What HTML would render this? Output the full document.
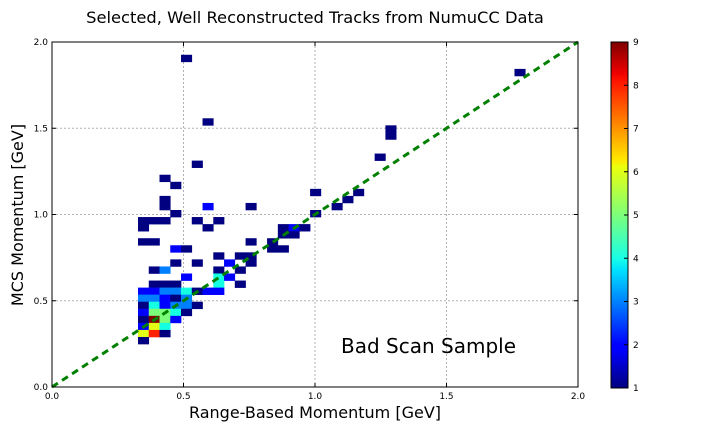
<!DOCTYPE html>
<html><head><meta charset="utf-8"><style>
html,body{margin:0;padding:0;background:#fff;width:720px;height:432px;overflow:hidden}
svg text{font-family:"DejaVu Sans","Liberation Sans",sans-serif}
</style></head><body>
<svg id="chart" width="720" height="432" viewBox="0 0 720 432" xmlns="http://www.w3.org/2000/svg">
<defs>
<linearGradient id="jet" x1="0" y1="1" x2="0" y2="0">
<stop offset="0" stop-color="#00007f"/><stop offset="0.11" stop-color="#0000ff"/><stop offset="0.125" stop-color="#0000ff"/>
<stop offset="0.34" stop-color="#00e0ff"/><stop offset="0.375" stop-color="#19ffe6"/><stop offset="0.5" stop-color="#7dff7a"/>
<stop offset="0.64" stop-color="#ebff0c"/><stop offset="0.66" stop-color="#ffe600"/><stop offset="0.89" stop-color="#ff1200"/>
<stop offset="0.91" stop-color="#ee0000"/><stop offset="1" stop-color="#7f0000"/>
</linearGradient>
</defs>
<text x="315" y="23" font-size="16.3" text-anchor="middle">Selected, Well Reconstructed Tracks from NumuCC Data</text>
<g id="grid"></g>
<g id="cells"></g>
<line x1="52" y1="387" x2="578" y2="42" stroke="#008000" stroke-width="3" stroke-dasharray="7,5"/>
<rect x="52" y="42" width="526" height="345" fill="none" stroke="#000" stroke-width="1"/>
<g id="ticks"></g>
<text x="341" y="353" font-size="20">Bad Scan Sample</text>
<text x="315" y="418" font-size="16" text-anchor="middle">Range-Based Momentum [GeV]</text>
<text x="23" y="215" font-size="16" text-anchor="middle" transform="rotate(-90 23 215)">MCS Momentum [GeV]</text>
<rect x="611" y="42" width="17" height="346" fill="url(#jet)" stroke="#000" stroke-width="1"/>
<g id="cbticks"></g>
</svg>
<script>
// histogram binning (GeV)
const binX0 = 0.327, binY0 = 0.249, binW = 0.0409;
// x bin index, y bin index, counts per cell
const xBin = [4,6,5,2,3,35,23,23,22,16,20,19,18,16,2,2,6,10,3,0,1,2,5,7,0,6,13,14,15,13,14,0,1,10,12,3,4,12,13,7,9,10,3,5,8,10,1,2,7,9,4,7,8,1,2,3,7,9,0,1,2,3,4,5,6,7,0,1,2,3,4,0,1,2,3,4,5,0,1,2,3,4,0,1,2,3,0,1,2,0,1,2,0];
const yBin = [40,31,25,23,22,38,30,29,26,21,21,20,19,18,20,19,19,19,18,17,17,17,17,17,16,16,16,16,16,15,15,14,14,14,14,13,13,13,13,12,12,12,11,11,11,11,10,10,10,10,9,9,9,8,8,8,8,8,7,7,7,7,7,7,7,7,6,6,6,6,6,5,5,5,5,5,5,4,4,4,4,4,3,3,3,3,2,2,2,1,1,1,0];
const counts = [1,1,1,1,1,1,1,1,1,1,1,1,1,1,1,1,2,1,1,1,1,1,1,1,1,1,1,2,1,1,1,1,1,1,1,2,1,1,1,1,1,1,1,1,2,1,1,3,1,1,2,4,2,1,1,1,4,1,2,2,3,3,4,1,2,2,3,3,2,1,3,1,4,2,3,3,1,2,5,5,4,1,1,9,5,2,2,6,4,6,8,1,1];
const axisTicks = [0.0,0.5,1.0,1.5,2.0];
const axisTickLabels = ["0.0","0.5","1.0","1.5","2.0"];
const cbTicks = [1,2,3,4,5,6,7,8,9];
const cMin = 1, cMax = 9;

const NS = "http://www.w3.org/2000/svg";
const L = 52, R = 578, T = 42, B = 387;
const xs = v => L + (v / 2) * (R - L);
const ys = v => B - (v / 2) * (B - T);
function interp(pts, t){for(let k=1;k<pts.length;k++){if(t<=pts[k][0]){const a=pts[k-1],b=pts[k];return a[1]+(b[1]-a[1])*(t-a[0])/(b[0]-a[0]);}}return pts[pts.length-1][1];}
function jet(t){
  const r=interp([[0,0],[0.35,0],[0.66,1],[0.89,1],[1,0.5]],t);
  const g=interp([[0,0],[0.125,0],[0.375,1],[0.64,1],[0.91,0],[1,0]],t);
  const b=interp([[0,0.5],[0.11,1],[0.34,1],[0.65,0],[1,0]],t);
  return "rgb("+Math.round(r*255)+","+Math.round(g*255)+","+Math.round(b*255)+")";
}
function mk(tag, attrs, parent){const e=document.createElementNS(NS,tag);for(const k in attrs)e.setAttribute(k,attrs[k]);parent.appendChild(e);return e;}

const grid = document.getElementById("grid");
axisTicks.forEach((v,k)=>{
  if(k===0||k===axisTicks.length-1) return;
  const gx = mk("line",{x1:xs(v),y1:T,x2:xs(v),y2:B,stroke:"#b0b0b0","stroke-dasharray":"2,2","stroke-width":1},grid);
  
  
  const gy = mk("line",{x1:L,y1:ys(v),x2:R,y2:ys(v),stroke:"#b0b0b0","stroke-dasharray":"2,2","stroke-width":1},grid);
  
  
});

const cells = document.getElementById("cells");
for(let n=0;n<counts.length;n++){
  const x0 = binX0 + xBin[n]*binW, y0 = binY0 + yBin[n]*binW;
  const px = xs(x0), py = ys(y0 + binW);
  const r = mk("rect",{x:px.toFixed(2),y:py.toFixed(2),width:(xs(x0+binW)-px+0.3).toFixed(2),height:(ys(y0)-py+0.3).toFixed(2),fill:jet((counts[n]-cMin)/(cMax-cMin))},cells);
  
  
}

const ticks = document.getElementById("ticks");
axisTicks.forEach((v,k)=>{
  const x = xs(v), y = ys(v);
  mk("line",{x1:x,y1:B,x2:x,y2:B-4,stroke:"#000"},ticks);
  mk("line",{x1:x,y1:T,x2:x,y2:T+4,stroke:"#000"},ticks);
  mk("line",{x1:L,y1:y,x2:L+4,y2:y,stroke:"#000"},ticks);
  mk("line",{x1:R,y1:y,x2:R-4,y2:y,stroke:"#000"},ticks);
  const tx = mk("text",{x:x,y:B+12,"font-size":9,"text-anchor":"middle"},ticks);
  tx.textContent = axisTickLabels[k];
  
  
  const ty = mk("text",{x:L-4,y:y+3,"font-size":9,"text-anchor":"end"},ticks);
  ty.textContent = axisTickLabels[k];
  
  
});

const cbt = document.getElementById("cbticks");
const cbY = v => 388 - (v - cMin)/(cMax - cMin) * 346;
cbTicks.forEach(v=>{
  mk("line",{x1:624,y1:cbY(v),x2:628,y2:cbY(v),stroke:"#000"},cbt);
  const t = mk("text",{x:633,y:cbY(v)+3,"font-size":9},cbt);
  t.textContent = String(v);
  
  
});
</script>
</body></html>
